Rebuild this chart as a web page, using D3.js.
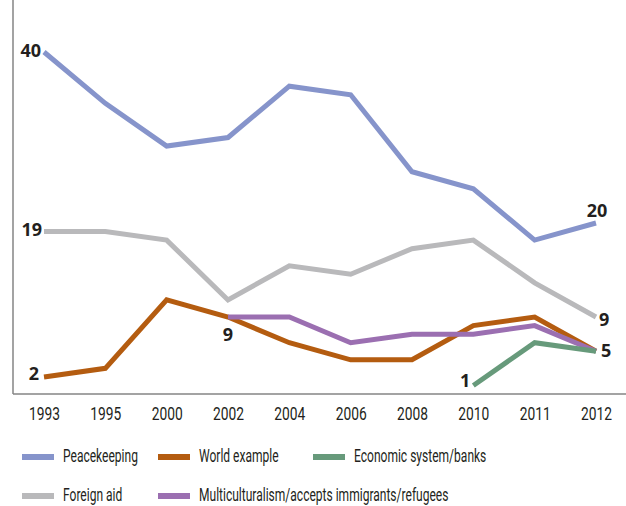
<!DOCTYPE html>
<html>
<head>
<meta charset="utf-8">
<script src="https://cdn.jsdelivr.net/npm/d3@7"></script>
<style>
  html, body { margin: 0; padding: 0; background: #fff; }
  svg { display: block; }
  .cond { font-family: "Roboto", "Liberation Sans", sans-serif; font-size: 19px; fill: #231f20; }
  .val { font-family: "Open Sans", "Noto Sans", sans-serif; font-weight: 700; font-size: 18px; fill: #231f20; }
</style>
</head>
<body>
<svg id="chart" width="626" height="506"></svg>
<script>
const years = ["1993", "1995", "2000", "2002", "2004", "2006", "2008", "2010", "2011", "2012"];
const peacekeeping = [40, 34, 29, 30, 36, 35, 26, 24, 18, 20];
const foreignAid = [19, 19, 18, 11, 15, 14, 17, 18, 13, 9];
const worldExample = [2, 3, 11, 9, 6, 4, 4, 8, 9, 5];
const multiculturalism = [null, null, null, 9, 9, 6, 7, 7, 8, 5];
const economicSystem = [null, null, null, null, null, null, null, 1, 6, 5];

const seriesNames = ["Peacekeeping", "World example", "Economic system/banks", "Foreign aid", "Multiculturalism/accepts immigrants/refugees"];
const seriesColors = ["#8694cb", "#b45c10", "#679a7b", "#b9b9bb", "#9b6fb1"];

const svg = d3.select("#chart");
const x = d3.scalePoint().domain(years).range([44, 596]);
const y = d3.scaleLinear().domain([0, 40]).range([394, 52]);

// horizontal condensing factors (no condensed font installed)
function measure(str) {
  const t = svg.append("text").attr("class", "cond").text(str);
  const w = t.node().getComputedTextLength();
  t.remove();
  return w;
}
const sxLegend = 75 / measure("Peacekeeping");
const sxTick = 31 / measure("1993");

// axes
svg.append("line").attr("x1", 13).attr("x2", 13).attr("y1", 0).attr("y2", 394)
  .attr("stroke", "#858585").attr("stroke-width", 1.5);
svg.append("line").attr("x1", 13).attr("x2", 626).attr("y1", 394).attr("y2", 394)
  .attr("stroke", "#858585").attr("stroke-width", 1.5);

const xAxis = d3.axisBottom(x).tickSize(0).tickPadding(0);
const gx = svg.append("g").attr("transform", "translate(0,420)").call(xAxis);
gx.select(".domain").remove();
gx.attr("font-family", null).attr("font-size", null);
gx.selectAll("text").attr("class", "cond").attr("dy", null).attr("y", 0)
  .attr("fill", null)
  .attr("transform", `scale(${sxTick},1)`);

const line = d3.line()
  .defined(d => d.v !== null)
  .x(d => x(d.year))
  .y(d => y(d.v));

function series(arr) { return years.map((yr, i) => ({ year: yr, v: arr[i] })); }

const drawOrder = [
  { data: foreignAid, color: seriesColors[3] },
  { data: peacekeeping, color: seriesColors[0] },
  { data: worldExample, color: seriesColors[1] },
  { data: multiculturalism, color: seriesColors[4] },
  { data: economicSystem, color: seriesColors[2] }
];
drawOrder.forEach(s => {
  svg.append("path").datum(series(s.data)).attr("d", line)
    .attr("fill", "none").attr("stroke", s.color).attr("stroke-width", 5)
    .attr("stroke-linejoin", "miter").attr("stroke-linecap", "butt");
});

// value labels
const labels = [
  { yr: "1993", v: peacekeeping[0], dx: -3, dy: 5, anchor: "end" },
  { yr: "1993", v: foreignAid[0], dx: -2, dy: 4, anchor: "end" },
  { yr: "1993", v: worldExample[0], dx: -5, dy: 3, anchor: "end" },
  { yr: "2002", v: worldExample[3], dx: 0, dy: 24, anchor: "middle" },
  { yr: "2012", v: peacekeeping[9], dx: 1, dy: -6, anchor: "middle" },
  { yr: "2012", v: foreignAid[9], dx: 3, dy: 9, anchor: "start" },
  { yr: "2012", v: worldExample[9], dx: 5, dy: 6, anchor: "start" },
  { yr: "2010", v: economicSystem[7], dx: -3, dy: 2, anchor: "end" }
];
svg.selectAll("text.val").data(labels).join("text")
  .attr("class", "val")
  .attr("x", d => x(d.yr) + d.dx)
  .attr("y", d => y(d.v) + d.dy)
  .attr("text-anchor", d => d.anchor)
  .text(d => d.v);

// legend
const legendItems = [
  { name: seriesNames[0], color: seriesColors[0], lx: 22, ly: 457 },
  { name: seriesNames[1], color: seriesColors[1], lx: 158, ly: 457 },
  { name: seriesNames[2], color: seriesColors[2], lx: 313, ly: 457 },
  { name: seriesNames[3], color: seriesColors[3], lx: 22, ly: 496 },
  { name: seriesNames[4], color: seriesColors[4], lx: 158, ly: 496 }
];
const lg = svg.append("g").selectAll("g").data(legendItems).join("g")
  .attr("transform", d => `translate(${d.lx},${d.ly})`);
lg.append("rect").attr("x", 0).attr("y", -3).attr("width", 32).attr("height", 6).attr("fill", d => d.color);
lg.append("text").attr("class", "cond").attr("x", 0).attr("y", 5)
  .attr("transform", `translate(41,0) scale(${sxLegend},1)`).text(d => d.name);
</script>
</body>
</html>
